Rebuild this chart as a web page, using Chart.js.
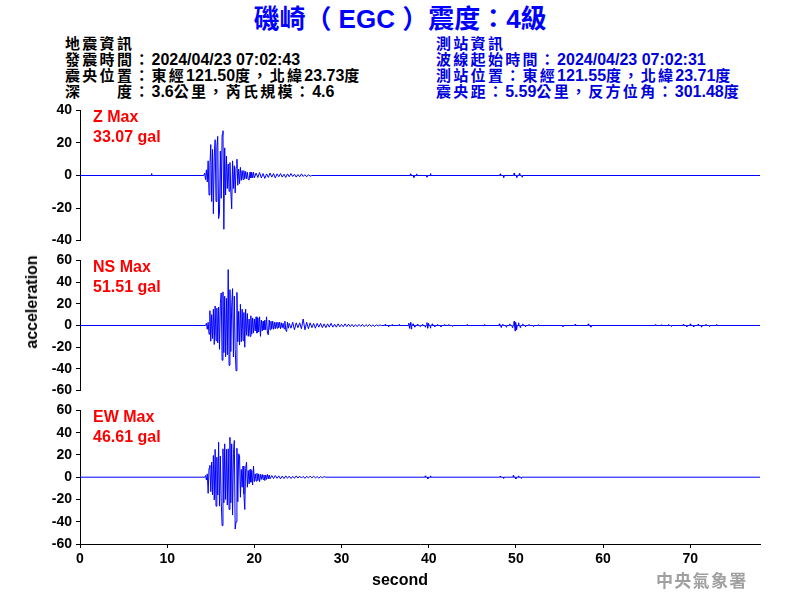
<!DOCTYPE html>
<html>
<head>
<meta charset="utf-8">
<script src="https://cdn.jsdelivr.net/npm/chart.js@4.4.1/dist/chart.umd.min.js"></script>
<style>
  html, body { margin: 0; padding: 0; background: #fff; }
  #page { position: relative; width: 800px; height: 600px; overflow: hidden; font-family: 'Liberation Sans', Arial, 'Noto Sans CJK TC', sans-serif; }
  canvas { position: absolute; left: 0; }
  .txt { position: absolute; white-space: pre; font-weight: bold; }
  .c { font-size: 15px; letter-spacing: 2.3px; }
  .hdr { font-size: 16px; line-height: 16px; }
  .red { color: #ff0000; font-size: 16px; line-height: 20px; }
</style>
</head>
<body>
<div id="page">
  <div class="txt" id="title" style="left:0;width:800px;text-align:center;top:4px;font-size:26px;line-height:30px;color:#0000ff;">磯崎（ EGC ）震度：4級</div>

  <div class="txt hdr" style="left:65px;top:36px;color:#000;"><span class="c">地震資訊</span>
<span class="c">發震時間：</span>2024/04/23 07:02:43
<span class="c">震央位置：東經</span>121.50<span class="c">度，北緯</span>23.73<span class="c">度</span>
<span class="c">深　　度：</span>3.6<span class="c">公里，芮氏規模：</span>4.6</div>

  <div class="txt hdr" style="left:436px;top:36px;color:#0000dd;"><span class="c">測站資訊</span>
<span class="c">波線起始時間：</span>2024/04/23 07:02:31
<span class="c">測站位置：東經</span>121.55<span class="c">度，北緯</span>23.71<span class="c">度</span>
<span class="c">震央距：</span>5.59<span class="c">公里，反方位角：</span>301.48<span class="c">度</span></div>

  <canvas id="zChart" width="800" height="155" style="top:98px"></canvas>
  <canvas id="nsChart" width="800" height="155" style="top:248px"></canvas>
  <canvas id="ewChart" width="800" height="190" style="top:398px"></canvas>

  <div class="txt red" id="lab0" style="left:93px;top:107px;"></div>
  <div class="txt red" id="lab1" style="left:93px;top:257px;"></div>
  <div class="txt red" id="lab2" style="left:93px;top:407px;"></div>

  <div class="txt" style="left:32px;top:302px;font-size:16px;line-height:20px;transform:translate(-50%,-50%) rotate(-90deg);">acceleration</div>
  <div class="txt" style="left:0;width:800px;text-align:center;top:570px;font-size:16px;line-height:20px;">second</div>
  <div class="txt" style="left:656px;top:570px;font-size:17px;line-height:20px;letter-spacing:1.3px;color:#a0a0a0;font-family:'Noto Sans CJK TC',sans-serif;">中央氣象署</div>
</div>

<script>
// time axis
const TIME_MAX = 78
const X_TICKS = [0, 10, 20, 30, 40, 50, 60, 70]

// peak labels
const componentNames = ['Z Max', 'NS Max', 'EW Max']
const peakLabels = ['33.07 gal', '51.51 gal', '46.61 gal']
const axisMin = [-40, -60, -60]
const axisMax = [40, 60, 60]

// Z component: strong part every 0.1 s, coda every 0.2 s, small isolated blips
const zMainStart = 14.2
const zMain = [0, 1.5, -2.5, 3.5, -4, 9, -12, 6, 19, -16, 16, -23.5, 12, 22, -16, 17.6, 24, -26.5, -23, 15,
  -14, 25, 27.5, -33.07, 17, -12, 12, -8, 7, -9.7, 8, -10, -20.5, 9, -8, 6, -10.7, 5, 10, -6,
  4, -5, 5, -3, 3, -2.5, 3, -2, 2.5, -2, 2, -2.5, -2.8, 2, -1.5, 2, -1.5, 2, -1.5]
const zCodaStart = 20.2
const zCoda = [1.5, -1.2, 1.8, -1.5, 1.2, -1.8, 1.0, -1.2, 1.5, -1.0, 1.2, -1.5, 1.0, -0.8, 1.2, -1.0,
  0.8, -1.2, 1.0, -0.8, 1.2, -0.6, 0.8, -1.0, 0.6, -0.8, 1.0, -0.6, 0.5, -0.8, 0.5, -0.4]
const zBlipT = [8.2, 37.9, 38.3, 38.6, 39.8, 40.2, 48.2, 48.6, 49.8, 50.1, 50.4, 50.7]
const zBlipV = [1.2, 1.0, -1.2, 1.0, -1.0, 1.2, 1.0, -1.2, 1.5, -1.2, 1.2, -1.0]

// NS component
const nsMainStart = 14.4
const nsMain = [0, 2, -3.5, 3, -8, 13.6, -14.5, 10, -12, 15, -17.5, 18, -14, 16, -16, 17, -22, 20, 30, -32,
  31, -25, 27, -29, 25, -27, 51.51, -36.7, 33, -24, 18, 34, -29, 27, -22, -41.7, 30.5, -15, 13, -18,
  19.5, -15, 15, -14, 12, -20, 15, -9, 11, -10, 6, -10, 9, -8, 7, -7, 6, -5, 8, -7,
  7, -6, 8, -10, 5, -5, 4, -4, 5, -4, 8, -7, -8.6, 5, -4, 4, -3, 4, -3.5, 3,
  -3, 3, -2.5, 3, -2, 3, -3, 2.5, -2, 2, -3, 4, -4, -5.6, 3, -2.5, 2]
const nsCodaStart = 24.2
const nsCoda = [-2.5, 3, -4, 2.5, -2, 2.5, -3, 6, -4, 3, -3, 2.5, -2, 2, -2.5, 2, -1.5, 2, -2, 1.5,
  -2, 1.5, -1.5, 2, -1.5, 1.2, -1.5, 1.5, -1.2, 1.0, -1.2, 1.5, -1.0, 1.2, -1.0, 1.0, -1.2, 0.8, -1.0, 1.0,
  -0.8, 1.0, -1.0, 0.8, -0.8, 1.0, -0.8, 0.6, -0.8, 0.6, -0.5, 0.5]
const nsBlipT = [35.0, 35.4, 35.8, 36.6, 37.7, 37.8, 37.9, 38.0, 38.2, 38.4, 38.7, 39.0, 39.3, 39.6, 39.8,
  39.9, 40.0, 40.2, 40.4, 40.7, 41.0, 41.4, 41.8, 42.3, 42.7, 44.4, 46.4, 48.1, 48.3, 48.5,
  48.9, 49.3, 49.6, 49.8, 49.9, 50.0, 50.1, 50.3, 50.5, 50.8, 51.1, 51.5, 52.0, 52.6, 55.4,
  56.8, 58.3, 58.6, 66.0, 66.7, 67.5, 67.8, 69.2, 69.6, 70.0, 70.4, 70.9, 71.3, 71.8, 72.2, 73.0]
const nsBlipV = [1.0, -1.2, 0.8, 0.8, 2.0, -2.7, 2.7, -3.3, 1.5, -1.5, 1.2, -1.0, 1.2, -1.5, 2.7,
  -2.5, 2.0, -2.5, 1.5, -1.2, 1.0, -1.2, 0.8, 1.0, -0.8, 0.8, 1.0, 1.5, -1.8, 1.2,
  -1.5, 1.5, -2.0, 3.9, -5.0, 3.0, -4.0, 2.5, -2.0, 1.5, -1.2, 1.0, -1.0, 0.8, -1.0,
  1.2, 1.5, -1.5, 0.8, 0.8, 1.0, -0.8, 1.0, -1.2, 1.5, -1.2, 1.2, -1.5, 1.2, -1.0, 0.8]

// EW component
const ewMainStart = 14.3
const ewMain = [0, 1.5, -2.5, 3, -14.5, 8, 10.7, -13, 13.6, -16, 19.5, -20.4, 25, -26, 18, -16, 31.4, -26, 19, -22,
  -43.5, 25.5, -23, 30, -20, 25, -25, 25.5, -29, 35.8, -23, 30, -34, 21, 33, -46.61, -40, 26, -22, 21,
  19.5, -18, 7, -9, 10, -15, -29, 8, 13.6, -9, 6, -6, 7, -4.5, 6, -7, 10, -4, 3, -3.5,
  3.5, -3, 3, -4, 2.5, -2, 2.5, -2, 2, -3, 2, -2, 2.5, -1.5, 2, -1.5]
const ewCodaStart = 22.0
const ewCoda = [1.5, -1.2, 1.5, -1.0, 1.2, -1.5, 1.0, -1.2, 1.2, -1.0, 1.0, -1.2, 0.8, -1.0, 1.2, -0.8,
  1.0, -0.8, 0.8, -1.0, 0.8, -0.6, 1.0, -0.6, 0.8, -0.6, 0.6, -0.8, 0.5, -0.5, 0.5]
const ewBlipT = [39.6, 39.9, 40.2, 48.2, 48.6, 49.7, 50.0, 50.3, 50.6]
const ewBlipV = [1.2, -1.5, 1.2, 1.0, -1.0, 1.5, -1.5, 1.2, -1.0]


function trace(mainStart, main, codaStart, coda, blipT, blipV) {
  const pts = [{x: 0, y: 0}]
  main.forEach((v, i) => pts.push({x: mainStart + i * 0.1, y: v}))
  coda.forEach((v, i) => pts.push({x: codaStart + i * 0.2, y: v}))
  pts.push({x: codaStart + coda.length * 0.2, y: 0})
  blipT.forEach((t, i) => {
    pts.push({x: t - 0.05, y: 0}, {x: t, y: blipV[i]}, {x: t + 0.05, y: 0})
  })
  pts.push({x: TIME_MAX, y: 0})
  pts.sort((a, b) => a.x - b.x)
  return pts
}

const tickFont = {family: "'Liberation Sans', Arial, sans-serif", size: 14, weight: 'bold'}

function makeChart(id, points, idx, showX) {
  const ctx = document.getElementById(id).getContext('2d')
  const xScale = {
    type: 'linear',
    display: showX,
    min: 0,
    max: TIME_MAX,
    afterBuildTicks: (s) => { s.ticks = X_TICKS.map(v => ({value: v})) },
    ticks: {font: tickFont, color: '#000', padding: 3, maxRotation: 0},
    grid: {drawOnChartArea: false, drawTicks: true, tickLength: 4, color: '#000'},
    border: {color: '#000', width: 1}
  }
  if (showX) xScale.afterFit = (s) => { s.height = 30 }

  new Chart(ctx, {
    type: 'line',
    data: {
      datasets: [{
        data: points,
        borderColor: '#0000ff',
        borderWidth: 1,
        pointRadius: 0,
        tension: 0,
        fill: false
      }]
    },
    options: {
      responsive: false,
      animation: false,
      events: [],
      layout: {padding: {left: 0, right: 40, top: 10, bottom: showX ? 14 : 10}},
      plugins: {legend: {display: false}, tooltip: {enabled: false}},
      scales: {
        x: xScale,
        y: {
          min: axisMin[idx],
          max: axisMax[idx],
          afterFit: (s) => { s.width = 80 },
          ticks: {stepSize: 20, autoSkip: false, font: tickFont, color: '#000', padding: 4},
          grid: {drawOnChartArea: false, drawTicks: true, tickLength: 4, color: '#000'},
          border: {color: '#000', width: 1}
        }
      }
    }
  })
  document.getElementById('lab' + idx).textContent = componentNames[idx] + '\n' + peakLabels[idx]
}

makeChart('zChart', trace(zMainStart, zMain, zCodaStart, zCoda, zBlipT, zBlipV), 0, false)
makeChart('nsChart', trace(nsMainStart, nsMain, nsCodaStart, nsCoda, nsBlipT, nsBlipV), 1, false)
makeChart('ewChart', trace(ewMainStart, ewMain, ewCodaStart, ewCoda, ewBlipT, ewBlipV), 2, true)
</script>
</body>
</html>
